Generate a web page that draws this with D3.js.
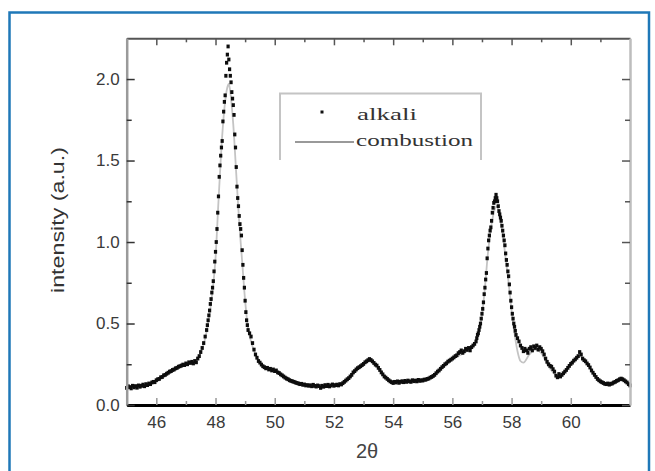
<!DOCTYPE html>
<html><head><meta charset="utf-8">
<script src="https://cdn.jsdelivr.net/npm/d3@7"></script>
<style>body{margin:0;background:#fff}svg{display:block}</style>
</head><body>
<svg id="c" width="655" height="471"></svg>
<script>
// ---- data ----
const alkaliX = [
45.00,45.05,45.10,45.15,45.20,45.25,45.30,45.35,45.40,45.45,45.50,45.55,45.60,45.65,45.70,45.75,45.80,45.85,45.90,45.95,
46.00,46.05,46.10,46.15,46.20,46.25,46.30,46.35,46.40,46.45,46.50,46.55,46.60,46.65,46.70,46.75,46.80,46.85,46.90,46.95,
47.00,47.05,47.10,47.15,47.20,47.25,47.30,47.35,47.40,47.45,47.50,47.55,47.60,47.65,47.70,
47.725,47.75,47.775,47.80,47.825,47.85,47.875,47.90,47.925,47.95,47.975,48.00,48.025,48.05,48.075,48.10,48.125,48.15,48.175,48.20,
48.225,48.25,48.275,48.30,48.325,48.35,48.375,48.40,48.425,48.45,48.475,48.50,48.525,48.55,48.575,48.60,48.625,48.65,48.675,48.70,
48.725,48.75,48.775,48.80,48.825,48.85,48.875,48.90,48.925,48.95,48.975,49.00,49.025,49.05,49.075,49.10,
49.15,49.20,49.25,49.30,49.35,49.40,49.45,49.50,49.55,49.60,49.65,49.70,49.75,49.80,49.85,49.90,49.95,
50.00,50.05,50.10,50.15,50.20,50.25,50.30,50.35,50.40,50.45,50.50,50.55,50.60,50.65,50.70,50.75,50.80,50.85,50.90,50.95,
51.00,51.05,51.10,51.15,51.20,51.25,51.30,51.35,51.40,51.45,51.50,51.55,51.60,51.65,51.70,51.75,51.80,51.85,51.90,51.95,
52.00,52.05,52.10,52.15,52.20,52.25,52.30,52.35,52.40,52.45,52.50,52.55,52.60,52.65,52.70,52.75,52.80,52.85,52.90,52.95,
53.00,53.05,53.10,53.15,53.20,53.25,53.30,53.35,53.40,53.45,53.50,53.55,53.60,53.65,53.70,53.75,53.80,53.85,53.90,53.95,
54.00,54.05,54.10,54.15,54.20,54.25,54.30,54.35,54.40,54.45,54.50,54.55,54.60,54.65,54.70,54.75,54.80,54.85,54.90,54.95,
55.00,55.05,55.10,55.15,55.20,55.25,55.30,55.35,55.40,55.45,55.50,55.55,55.60,55.65,55.70,55.75,55.80,55.85,55.90,55.95,
56.00,56.05,56.10,56.15,56.20,56.25,56.30,56.35,56.40,56.45,56.50,56.55,56.60,56.65,56.70,56.75,56.80,
56.825,56.85,56.875,56.90,56.925,56.95,56.975,57.00,57.025,57.05,57.075,57.10,57.125,57.15,57.175,57.20,57.225,57.25,57.275,57.30,
57.325,57.35,57.375,57.40,57.425,57.45,57.475,57.50,57.525,57.55,57.575,57.60,57.625,57.65,57.675,57.70,57.725,57.75,57.775,57.80,
57.825,57.85,57.875,57.90,57.925,57.95,57.975,58.00,58.025,58.05,58.075,58.10,58.125,58.15,
58.20,58.25,58.30,58.35,58.40,58.45,58.50,58.55,58.60,58.65,58.70,58.75,58.80,58.85,58.90,58.95,
59.00,59.05,59.10,59.15,59.20,59.25,59.30,59.35,59.40,59.45,59.50,59.55,59.60,59.65,59.70,59.75,59.80,59.85,59.90,59.95,
60.00,60.05,60.10,60.15,60.20,60.25,60.30,60.35,60.40,60.45,60.50,60.55,60.60,60.65,60.70,60.75,60.80,60.85,60.90,60.95,
61.00,61.05,61.10,61.15,61.20,61.25,61.30,61.35,61.40,61.45,61.50,61.55,61.60,61.65,61.70,61.75,61.80,61.85,61.90,61.95,62.00
];
const alkaliY = [
.105,.115,.110,.102,.118,.108,.116,.106,.120,.112,.118,.125,.115,.128,.122,.132,.128,.138,.142,.140,
.152,.158,.160,.170,.172,.182,.185,.192,.198,.205,.208,.215,.218,.225,.228,.235,.238,.242,.248,.245,
.255,.250,.262,.258,.265,.255,.270,.262,.285,.300,.325,.350,.380,.420,.460,
.49,.52,.55,.58,.62,.65,.69,.72,.76,.82,.88,.94,1.00,1.08,1.18,1.28,1.40,1.47,1.53,1.58,
1.62,1.74,1.80,1.86,1.90,2.02,2.10,2.15,2.20,2.12,2.06,2.02,1.98,1.92,1.88,1.84,1.78,1.66,1.58,1.46,
1.34,1.27,1.22,1.16,1.11,1.08,1.04,.95,.86,.78,.72,.64,.57,.52,.49,.46,
.44,.42,.38,.34,.31,.29,.27,.26,.248,.238,.232,.225,.228,.218,.222,.212,.218,
.208,.212,.200,.196,.188,.182,.175,.168,.162,.158,.152,.148,.145,.142,.138,.135,.132,.128,.130,.124,
.126,.120,.122,.118,.121,.115,.124,.117,.113,.120,.116,.105,.118,.112,.122,.116,.124,.114,.120,.126,
.118,.122,.125,.120,.128,.126,.134,.142,.150,.158,.165,.175,.185,.200,.208,.218,.226,.232,.238,.245,
.252,.262,.268,.275,.282,.276,.268,.258,.248,.242,.228,.215,.200,.188,.175,.168,.160,.152,.145,.140,
.135,.142,.138,.145,.136,.142,.146,.140,.148,.142,.150,.145,.142,.152,.146,.150,.145,.154,.148,.152,
.150,.156,.155,.160,.162,.168,.172,.178,.185,.195,.205,.212,.222,.232,.240,.250,.256,.266,.272,.278,
.285,.292,.300,.305,.318,.325,.335,.320,.330,.345,.338,.350,.335,.355,.365,.375,.390,
.41,.43,.44,.46,.48,.50,.53,.56,.59,.63,.68,.72,.77,.81,.90,.96,1.01,1.04,1.07,1.09,
1.13,1.18,1.21,1.24,1.25,1.27,1.29,1.27,1.25,1.22,1.19,1.17,1.15,1.13,1.10,1.07,1.04,1.01,.98,.93,
.89,.86,.82,.79,.74,.69,.64,.60,.56,.53,.50,.48,.455,.43,
.41,.39,.365,.35,.33,.345,.335,.32,.345,.355,.335,.36,.35,.365,.34,.355,
.345,.33,.31,.285,.265,.25,.24,.235,.22,.205,.18,.17,.19,.175,.185,.195,.205,.215,.228,.24,
.252,.26,.272,.28,.29,.30,.325,.31,.285,.275,.268,.255,.245,.23,.212,.198,.185,.172,.16,.152,
.145,.14,.135,.13,.128,.132,.125,.13,.132,.138,.142,.148,.152,.158,.162,.158,.152,.145,.138,.128,.12
];
const combustionX = [45.0,45.5,46.0,46.5,47.0,47.3,47.5,47.7,47.9,48.0,48.1,48.2,48.3,48.4,48.45,48.5,48.6,48.7,48.8,48.9,
49.0,49.1,49.2,49.4,49.6,49.8,50.0,50.3,50.6,51.0,51.5,52.0,52.3,52.6,52.9,53.2,53.5,53.8,54.2,54.8,
55.2,55.6,56.0,56.4,56.7,56.9,57.0,57.1,57.2,57.3,57.4,57.5,57.6,57.7,57.8,57.9,58.0,58.1,58.2,58.3,
58.4,58.6,58.8,59.0,59.2,59.4,59.6,59.8,60.0,60.3,60.6,60.9,61.2,61.5,61.7,62.0];
const combustionY = [.11,.12,.15,.20,.25,.27,.32,.45,.70,.90,1.25,1.58,1.82,1.95,1.97,1.92,1.72,1.42,1.12,.88,
.64,.47,.39,.29,.24,.22,.21,.18,.15,.125,.115,.12,.13,.18,.235,.27,.23,.16,.14,.15,
.16,.22,.28,.32,.36,.45,.55,.72,.93,1.08,1.18,1.22,1.15,1.05,.90,.75,.58,.44,.33,.27,
.26,.31,.34,.32,.25,.20,.17,.20,.25,.30,.24,.16,.13,.14,.16,.12];
const seriesNames = ["alkali","combustion"];
const xMajorTicks = [46,48,50,52,54,56,58,60];
const xMinorTicks = [45,47,49,51,53,55,57,59,61];
const yMajorTicks = [0.0,0.5,1.0,1.5,2.0];
const yMinorTicks = [0.25,0.75,1.25,1.75];
const xTitle = "2θ";
const yTitle = "intensity (a.u.)";

// ---- drawing ----
const svg = d3.select("#c");
const L=126.7, R=630, T=38.3, B=405;
const x = d3.scaleLinear().domain([45,62]).range([L,R]);
const y = d3.scaleLinear().domain([0,2.25]).range([B,T]);

// blue frame
svg.append("path").attr("d","M9.5,471 V12.5 H649 V471")
  .attr("fill","none").attr("stroke","#1f78b8").attr("stroke-width",2.5);

// combustion line
const pts = combustionX.map((d,i)=>[d,combustionY[i]]);
svg.append("path").datum(pts)
  .attr("d", d3.line().x(d=>x(d[0])).y(d=>y(d[1])).curve(d3.curveMonotoneX))
  .attr("fill","none").attr("stroke","#c4c4c4").attr("stroke-width",1.8);

// alkali dots
svg.append("g").selectAll("rect").data(alkaliX.map((d,i)=>[d,alkaliY[i]])).join("rect")
  .attr("x",d=>x(d[0])-1.6).attr("y",d=>y(d[1])-1.9).attr("width",3.2).attr("height",3.8)
  .attr("fill","#0d0d0d");

const fontSans = "'Liberation Sans', Arial, sans-serif";
function styleAxis(g, color, width){
  g.select(".domain").attr("stroke",color).attr("stroke-width",width);
  g.selectAll(".tick line").attr("stroke","#555").attr("stroke-width",1.5);
  g.selectAll(".tick text").attr("fill","#3a3a3a").attr("font-family",fontSans).attr("font-size",17);
}
// bottom
const gb = svg.append("g").attr("transform",`translate(0,${B})`)
  .call(d3.axisBottom(x).tickValues(xMajorTicks).tickSize(-7).tickPadding(11).tickSizeOuter(0).tickFormat(d3.format("d")));
gb.append("g").call(d3.axisBottom(x).tickValues(xMinorTicks).tickSize(-4).tickFormat("").tickSizeOuter(0))
  .call(g=>g.select(".domain").remove()).selectAll("line").attr("stroke","#888").attr("stroke-width",1.5);
styleAxis(gb,"#000",3);
gb.selectAll(".tick line").attr("stroke","#999");
// top
const gt = svg.append("g").attr("transform",`translate(0,${T})`)
  .call(d3.axisTop(x).tickValues(xMajorTicks).tickSize(-7).tickFormat("").tickSizeOuter(0));
gt.append("g").call(d3.axisTop(x).tickValues(xMinorTicks).tickSize(-4).tickFormat("").tickSizeOuter(0))
  .call(g=>g.select(".domain").remove()).selectAll("line").attr("stroke","#777").attr("stroke-width",1.5);
styleAxis(gt,"#555",2);
// left
const gl = svg.append("g").attr("transform",`translate(${L},0)`)
  .call(d3.axisLeft(y).tickValues(yMajorTicks).tickSize(-8).tickPadding(7).tickSizeOuter(0).tickFormat(d3.format(".1f")));
gl.append("g").call(d3.axisLeft(y).tickValues(yMinorTicks).tickSize(-5).tickFormat("").tickSizeOuter(0))
  .call(g=>g.select(".domain").remove()).selectAll("line").attr("stroke","#444").attr("stroke-width",1.5);
styleAxis(gl,"#9a9a9a",2.5);
gl.selectAll(".tick line").attr("stroke","#333");
// right
const gr = svg.append("g").attr("transform",`translate(${R},0)`)
  .call(d3.axisRight(y).tickValues(yMajorTicks).tickSize(-8).tickFormat("").tickSizeOuter(0));
gr.append("g").call(d3.axisRight(y).tickValues(yMinorTicks).tickSize(-5).tickFormat("").tickSizeOuter(0))
  .call(g=>g.select(".domain").remove()).selectAll("line").attr("stroke","#777").attr("stroke-width",1.5);
styleAxis(gr,"#bdbdbd",2.5);

// titles
svg.append("text").attr("x",367).attr("y",458).attr("text-anchor","middle")
  .attr("font-family",fontSans).attr("font-size",20).attr("fill","#444").text(xTitle);
svg.append("text").attr("transform","translate(64,220) rotate(-90)").attr("text-anchor","middle")
  .attr("font-family",fontSans).attr("font-size",18).attr("fill","#333")
  .attr("textLength",146).attr("lengthAdjust","spacingAndGlyphs").text(yTitle);

// legend
svg.append("path").attr("d","M280,160 V93.5 H481 V160")
  .attr("fill","none").attr("stroke","#c4c4c4").attr("stroke-width",2);
svg.append("rect").attr("x",320.5).attr("y",110.5).attr("width",3).attr("height",3).attr("fill","#111");
svg.append("line").attr("x1",295).attr("x2",354).attr("y1",142).attr("y2",142)
  .attr("stroke","#777").attr("stroke-width",1.5);
const fontSerif = "'Liberation Serif', 'Times New Roman', serif";
svg.append("text").attr("x",357).attr("y",120).attr("font-family",fontSerif).attr("font-size",17)
  .attr("fill","#333").attr("textLength",60).attr("lengthAdjust","spacingAndGlyphs").text(seriesNames[0]);
svg.append("text").attr("x",356).attr("y",146).attr("font-family",fontSerif).attr("font-size",17)
  .attr("fill","#333").attr("textLength",117).attr("lengthAdjust","spacingAndGlyphs").text(seriesNames[1]);
</script>
</body></html>
